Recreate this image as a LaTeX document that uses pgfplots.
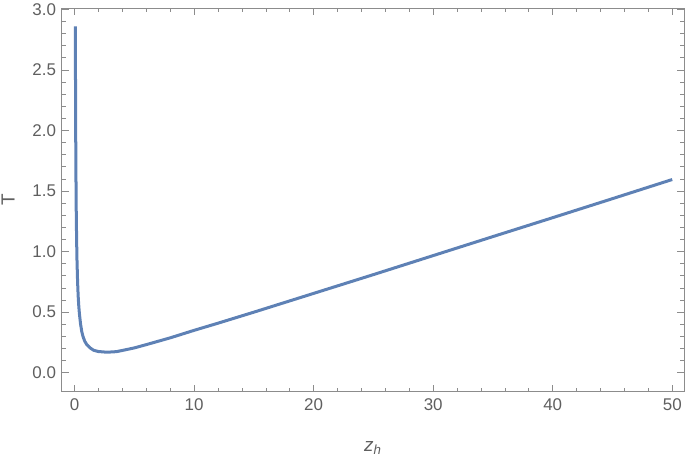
\documentclass[border=0pt]{standalone}
\usepackage{fontspec}
\setmainfont{Liberation Sans}
\usepackage{pgfplots}
\pgfplotsset{compat=1.18}
\definecolor{curve}{RGB}{94,129,181}
\definecolor{frame}{RGB}{140,140,140}
\definecolor{lbl}{RGB}{95,95,95}

\begin{document}
\begin{tikzpicture}[x=1bp,y=1bp]
\begin{axis}[
  scale only axis,
  width=622bp, height=383bp,
  xmin=-1.09, xmax=51.0, ymin=-0.157, ymax=3.008,
  xtick={0,10,...,50}, minor x tick num=4,
  ytick={0,0.5,...,3}, minor y tick num=4,
  tick align=inside,
  major tick length=7bp, minor tick length=4bp,
  axis line style={frame, line width=0.9pt},
  every tick/.style={frame, line width=0.7pt},
  tick label style={lbl, font=\fontsize{17}{19}\selectfont},
  /pgf/number format/assume math mode=true,
  yticklabel style={xshift=-2bp, /pgf/number format/.cd, fixed, fixed zerofill, precision=1},
  xticklabel style={yshift=-3bp},
  xlabel={\textit{z}\textsubscript{\textit{h}}},
  ylabel={T},
  label style={lbl, font=\fontsize{19}{21}\selectfont, inner sep=1.5bp},
  xlabel style={at={(axis description cs:0.5,0)}, anchor=base, yshift=-59.5bp},
  ylabel style={at={(axis description cs:0,0.5)}, anchor=center, rotate=0, yshift=53.5bp},
]
\addplot[curve, line width=3bp, line join=round] coordinates {
(0.063,2.86) (0.07,2.58) (0.08,2.27) (0.09,2.02) (0.10,1.83) (0.12,1.53)
(0.14,1.31) (0.17,1.09) (0.20,0.93) (0.25,0.75) (0.30,0.63) (0.35,0.55)
(0.40,0.49) (0.50,0.40) (0.60,0.34) (0.70,0.30) (0.85,0.26) (1.0,0.235)
(1.3,0.205) (1.6,0.185) (2.0,0.175) (2.5,0.171) (3.0,0.171) (3.5,0.174)
(4.0,0.184) (5.0,0.205) (6.0,0.232) (7.0,0.260) (8.0,0.288) (10,0.350)
(12,0.409) (15,0.500) (20,0.655) (25,0.810) (30,0.967) (35,1.124)
(40,1.280) (45,1.437) (50,1.595)
};
\end{axis}
\end{tikzpicture}
\end{document}
